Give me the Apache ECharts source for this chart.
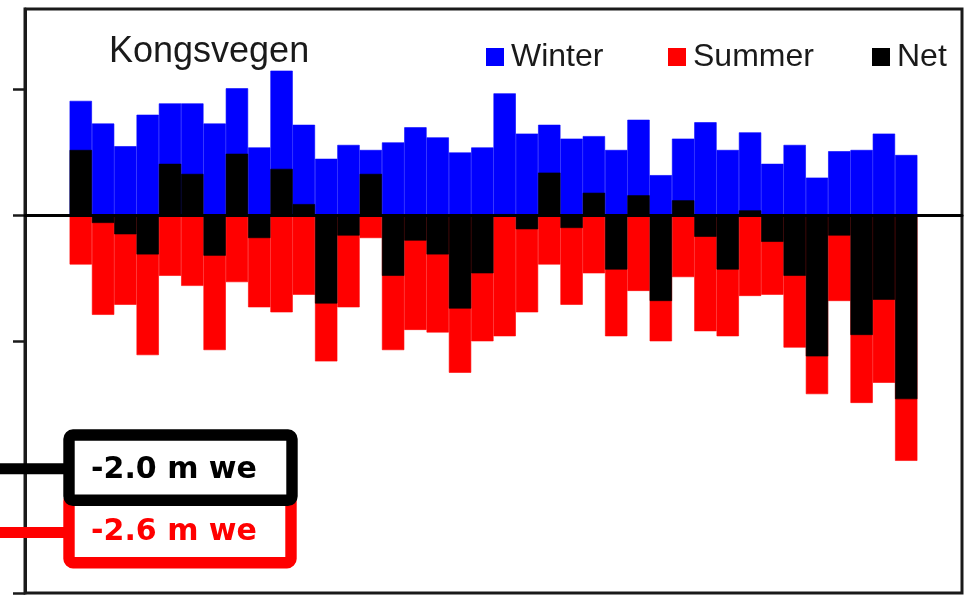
<!DOCTYPE html>
<html>
<head>
<meta charset="utf-8">
<script src="https://cdn.jsdelivr.net/npm/echarts@6/dist/echarts.min.js"></script>
<style>
  html, body { margin: 0; padding: 0; background: #ffffff; }
  #chart { width: 973px; height: 598px; }
</style>
</head>
<body>
<div id="chart"></div>
<script>
// Kongsvegen glacier: seasonal and annual mass balance (m w.e.), 1987–2024
const years = [1987,1988,1989,1990,1991,1992,1993,1994,1995,1996,1997,1998,1999,2000,2001,2002,2003,2004,2005,2006,2007,2008,2009,2010,2011,2012,2013,2014,2015,2016,2017,2018,2019,2020,2021,2022,2023,2024];

const winter = [0.91,0.73,0.55,0.80,0.89,0.89,0.73,1.01,0.54,1.15,0.72,0.45,0.56,0.52,0.58,0.70,0.62,0.50,0.54,0.97,0.65,0.72,0.61,0.63,0.52,0.76,0.32,0.61,0.74,0.52,0.66,0.41,0.56,0.30,0.51,0.52,0.65,0.48];

const summer = [-0.39,-0.79,-0.71,-1.11,-0.48,-0.56,-1.07,-0.53,-0.73,-0.77,-0.63,-1.16,-0.73,-0.18,-1.07,-0.91,-0.93,-1.25,-1.00,-0.96,-0.77,-0.39,-0.71,-0.46,-0.96,-0.60,-1.00,-0.49,-0.92,-0.96,-0.64,-0.63,-1.05,-1.42,-0.68,-1.49,-1.33,-1.95];

const net = [0.52,-0.06,-0.15,-0.31,0.41,0.33,-0.32,0.49,-0.18,0.37,0.09,-0.70,-0.16,0.33,-0.48,-0.20,-0.31,-0.74,-0.46,0.01,-0.11,0.34,-0.10,0.18,-0.43,0.16,-0.68,0.12,-0.17,-0.43,0.04,-0.21,-0.48,-1.12,-0.16,-0.95,-0.67,-1.46];

// y axis ticks (m w.e.)
const yTicks = [-3, -2, -1, 0, 1];

// callout texts
const calloutNet = '-2.0 m we';
const calloutSummer = '-2.6 m we';

// two empty years of padding on each side of the record
const PAD = 2;
const axisYears = [];
for (let y = years[0] - PAD; y <= years[years.length - 1] + PAD; y++) axisYears.push(String(y));
const pad = arr => {
  const out = axisYears.map(() => '-');
  arr.forEach((v, i) => { out[i + PAD] = v; });
  return out;
};

const chart = echarts.init(document.getElementById('chart'), null, { renderer: 'canvas' });
const frameColor = '#1a1a1a';
const legendText = { fontFamily: 'Liberation Sans, Arial, sans-serif', fontSize: 32, color: '#1a1a1a', padding: [0, 0, 0, 3] };

const mkLegend = (name, left) => ({
  data: [name], left: left, top: 41, itemWidth: 16, itemHeight: 16,
  icon: 'rect', padding: 0, textStyle: legendText, selectedMode: false
});

// solid bars: a hairline border in the fill colour closes the seams between neighbours
const barStyle = color => ({ color: color, borderColor: color, borderWidth: 0.6 });

// bold callout lettering
const calloutFont = (text, y, color) => ({
  type: 'text', z: 103,
  style: { text: text, x: 174, y: y, textAlign: 'center', textVerticalAlign: 'middle',
    fontFamily: 'DejaVu Sans, sans-serif', fontWeight: 'bold', fontSize: 30, fill: color }
});

chart.setOption({
  animation: false,
  backgroundColor: '#ffffff',
  title: {
    text: 'Kongsvegen', left: 109, top: 34, padding: 0,
    textStyle: { fontFamily: 'Liberation Sans, Arial, sans-serif', fontSize: 36, fontWeight: 'normal', color: '#1a1a1a' }
  },
  legend: [mkLegend('Winter', 486), mkLegend('Summer', 668), mkLegend('Net', 872)],
  grid: {
    left: 25, right: 11, top: 9, bottom: 5, containLabel: false,
    show: true, borderColor: frameColor, borderWidth: 3, backgroundColor: 'transparent'
  },
  xAxis: {
    type: 'category', data: axisYears, boundaryGap: true, z: 5,
    axisLine: { show: true, onZero: true, lineStyle: { color: '#000000', width: 3 } },
    axisTick: { show: false }, axisLabel: { show: false }, splitLine: { show: false }
  },
  yAxis: {
    type: 'value', min: yTicks[0], max: 1.64, interval: 1,
    axisLine: { show: true, lineStyle: { color: frameColor, width: 3 } },
    axisTick: { show: true, inside: false, length: 12, customValues: yTicks, lineStyle: { color: frameColor, width: 2.5 } },
    axisLabel: { show: false }, splitLine: { show: false }
  },
  series: [
    { name: 'Winter', type: 'bar', data: pad(winter), barWidth: '100%', barGap: '-100%', itemStyle: barStyle('#0000ff') },
    { name: 'Summer', type: 'bar', data: pad(summer), barWidth: '100%', barGap: '-100%', itemStyle: barStyle('#ff0000') },
    { name: 'Net', type: 'bar', data: pad(net), barWidth: '100%', barGap: '-100%', itemStyle: barStyle('#000000') }
  ],
  graphic: [
    // leader lines to the axis
    { type: 'rect', z: 100, shape: { x: 0, y: 463.3, width: 64, height: 11 }, style: { fill: '#000000' } },
    { type: 'rect', z: 100, shape: { x: 0, y: 527, width: 64, height: 11 }, style: { fill: '#ff0000' } },
    // summer callout box
    { type: 'rect', z: 101, shape: { x: 69, y: 497.4, width: 222, height: 65.3, r: 4 },
      style: { fill: '#ffffff', stroke: '#ff0000', lineWidth: 11.4 } },
    // net callout box
    { type: 'rect', z: 102, shape: { x: 69, y: 435, width: 223, height: 65.3, r: 4 },
      style: { fill: '#ffffff', stroke: '#000000', lineWidth: 11.4 } },
    calloutFont(calloutNet, 470, '#000000'),
    calloutFont(calloutSummer, 532, '#ff0000')
  ]
});
</script>
</body>
</html>
